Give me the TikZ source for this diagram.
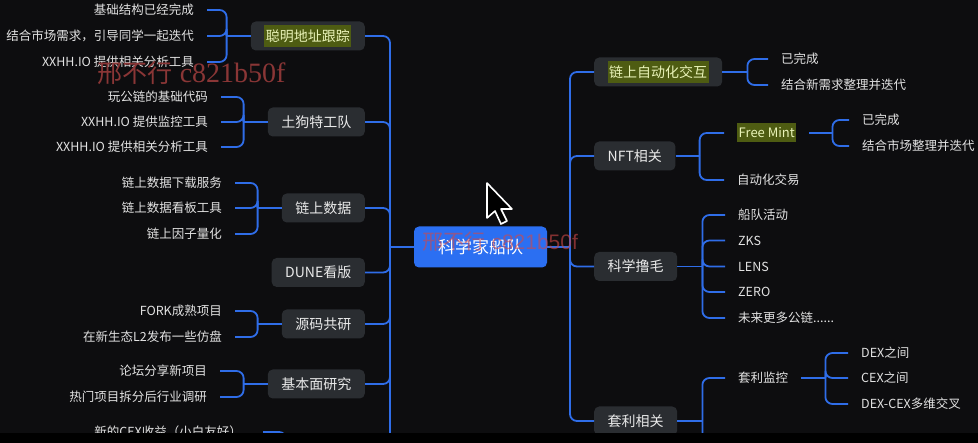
\documentclass[tikz,border=0pt]{standalone}
\usepackage{fontspec}
\newfontfamily\cjk{Noto Sans CJK SC}
\newfontfamily\wmserif{Liberation Serif}
\newfontfamily\wmsans{Liberation Sans}
\definecolor{bgc}{HTML}{0D0D0F}
\definecolor{nodebg}{HTML}{2A2D31}
\definecolor{nodetext}{HTML}{EAEAEA}
\definecolor{leaftext}{HTML}{E2E2E2}
\definecolor{linec}{HTML}{2F6DE8}
\definecolor{centerc}{HTML}{2B6FF2}
\definecolor{hlbg}{HTML}{4E5C12}
\definecolor{hltext}{HTML}{E9F3B8}
\definecolor{wmred}{HTML}{8A3636}
\definecolor{wmred2}{HTML}{D04848}
\newcommand\hlbox[1]{{\setlength\fboxsep{0pt}\colorbox{hlbg}{\kern1.5pt\color{hltext}\rule[-5pt]{0pt}{22pt}#1\kern1.5pt}}}
\begin{document}
\begin{tikzpicture}[x=1pt,y=-1pt,
  box/.style={rounded corners=5pt, fill=nodebg, text=nodetext, font=\cjk\fontsize{14}{16}\selectfont, minimum height=29pt, inner xsep=13.5pt, inner ysep=0pt},
  leaf/.style={inner sep=0pt, text=leaftext, font=\cjk\fontsize{12.5}{14}\selectfont},
  link/.style={draw=linec, line width=1.8pt, rounded corners=7pt},
  hlleaf/.style={inner xsep=1.5pt, inner ysep=0pt, fill=hlbg, text=hltext, font=\cjk\fontsize{13}{14}\selectfont, text height=14pt, text depth=5pt}
]
\useasboundingbox (0,0) rectangle (978,443);
\fill[bgc] (0,0) rectangle (978,443);

% ---------- centre ----------
\node[rounded corners=5pt, fill=centerc, text=white, font=\cjk\fontsize{17}{19}\selectfont, minimum width=133pt, minimum height=41pt, inner sep=0pt] (C) at (480.5,247) {科学家船队};
\coordinate (LJ) at (390,247);
\coordinate (RJ) at (570,247);
\coordinate (LB) at (390,460);

% ---------- left branch nodes ----------
\node[box, anchor=east] (L1) at (365,36) {\hlbox{聪明地址跟踪}};
\node[box, anchor=east] (L2) at (365,122) {土狗特工队};
\node[box, anchor=east] (L3) at (365,208) {链上数据};
\node[box, anchor=east] (L4) at (365,272.5) {DUNE看版};
\node[box, anchor=east] (L5) at (365,324) {源码共研};
\node[box, anchor=east] (L6) at (365,384) {基本面研究};

\foreach \n in {L1,L2,L3,L4,L5,L6} \draw[link] (\n.east) -| (LJ);
\draw[link] (C.west) -- (LJ);
\draw[link] (LJ) -- (LB);

% ---------- left leaves ----------
\node[leaf, anchor=east] (l1a) at (194,10) {基础结构已经完成};
\node[leaf, anchor=east] (l1b) at (194,36) {结合市场需求，引导同学一起迭代};
\node[leaf, anchor=east] (l1c) at (194,62) {XXHH.IO 提供相关分析工具};
\node[leaf, anchor=east] (l2a) at (208,97) {玩公链的基础代码};
\node[leaf, anchor=east] (l2b) at (208,122) {XXHH.IO 提供监控工具};
\node[leaf, anchor=east] (l2c) at (208,147) {XXHH.IO 提供相关分析工具};
\node[leaf, anchor=east] (l3a) at (222,183) {链上数据下载服务};
\node[leaf, anchor=east] (l3b) at (222,208) {链上数据看板工具};
\node[leaf, anchor=east] (l3c) at (222,234) {链上因子量化};
\node[leaf, anchor=east] (l5a) at (222,311) {FORK成熟项目};
\node[leaf, anchor=east] (l5b) at (222,337) {在新生态L2发布一些仿盘};
\node[leaf, anchor=east] (l6a) at (207,371) {论坛分享新项目};
\node[leaf, anchor=east] (l6b) at (207,397) {热门项目拆分后行业调研};
\node[leaf, anchor=east] (l7a) at (242,432) {新的CEX收益（小白友好）};

\foreach \p/\b in {L1/bL1,L2/bL2,L3/bL3,L5/bL5,L6/bL6} {
  \coordinate (\b) at ([xshift=-24pt]\p.west);
  \draw[link] (\p.west) -- (\b);
}
\foreach \b/\c in {bL1/l1a,bL1/l1b,bL1/l1c,bL2/l2a,bL2/l2b,bL2/l2c,bL3/l3a,bL3/l3b,bL3/l3c,bL5/l5a,bL5/l5b,bL6/l6a,bL6/l6b}
  \draw[link] (\b) |- ([xshift=13pt]\c.east);
\coordinate (bL7) at (286,470);
\draw[link] ([xshift=21pt]l7a.east) -| (bL7);

% ---------- right branch nodes ----------
\node[box, anchor=west] (R1) at (594,72) {\hlbox{链上自动化交互}};
\node[box, anchor=west] (R2) at (594,156) {NFT相关};
\node[box, anchor=west] (R3) at (594,266.5) {科学撸毛};
\node[box, anchor=west] (R4) at (594,421) {套利相关};
\draw[link] (C.east) -- (RJ);
\foreach \n in {R1,R2,R3,R4} \draw[link] (RJ) |- (\n.west);

% ---------- right leaves ----------
\node[leaf, anchor=west] (r1a) at (781,59) {已完成};
\node[leaf, anchor=west] (r1b) at (781,85) {结合新需求整理并迭代};
\node[hlleaf, anchor=west] (r2a) at (737,133) {Free Mint};
\node[leaf, anchor=west] (r2b) at (737,180) {自动化交易};
\node[leaf, anchor=west] (fma) at (862,120) {已完成};
\node[leaf, anchor=west] (fmb) at (862,146) {结合市场整理并迭代};
\node[leaf, anchor=west] (r3a) at (738,215) {船队活动};
\node[leaf, anchor=west] (r3b) at (738,240.5) {ZKS};
\node[leaf, anchor=west] (r3c) at (738,266.5) {LENS};
\node[leaf, anchor=west] (r3d) at (738,292) {ZERO};
\node[leaf, anchor=west] (r3e) at (738,318) {未来更多公链......};
\node[leaf, anchor=west] (r4a) at (738,378) {套利监控};
\node[leaf, anchor=west] (tla) at (861,353) {DEX之间};
\node[leaf, anchor=west] (tlb) at (861,378) {CEX之间};
\node[leaf, anchor=west] (tlc) at (861,404) {DEX-CEX多维交叉};

\coordinate (bR1) at ([xshift=25pt]R1.east);
\coordinate (bR2) at ([xshift=24pt]R2.east);
\coordinate (bR3) at ([xshift=25pt]R3.east);
\coordinate (bR4) at ([xshift=25pt]R4.east);
\coordinate (bFM) at ([xshift=36pt]r2a.east);
\coordinate (bTL) at ([xshift=37pt]r4a.east);
\coordinate (bR4end) at (703,470);
\draw[link] (R1.east) -- (bR1);
\draw[link] (R2.east) -- (bR2);
\draw[link] (R3.east) -- (bR3);
\draw[link] (R4.east) -- (bR4);
\draw[link] ([xshift=13pt]r2a.east) -- (bFM);
\draw[link] ([xshift=13pt]r4a.east) -- (bTL);
\foreach \b/\c in {bR1/r1a,bR1/r1b,bR2/r2a,bR2/r2b,bFM/fma,bFM/fmb,bR3/r3a,bR3/r3b,bR3/r3c,bR3/r3d,bR3/r3e,bR4/r4a,bTL/tla,bTL/tlb,bTL/tlc}
  \draw[link] (\b) |- ([xshift=-13pt]\c.west);
\draw[link] (bR4) -- (bR4end);

% ---------- overlays ----------
\node[anchor=west, inner sep=0pt, text=wmred, font=\fontsize{25}{27}\selectfont] (wm1) at (97,73) {{\cjk 邢不行} {\wmserif\fontsize{28}{30}\selectfont c821b50f}};
\node[anchor=west, inner sep=0pt, text=wmred2, opacity=0.6, font=\fontsize{21}{23}\selectfont] (wm2) at (422,242) {{\cjk 邢不行} \wmsans c821b50f};
\fill[black, draw=white, line width=1.6pt, line join=round, shift={(487,183)}]
  (0,0) -- (0,35) -- (8,28) -- (14,41) -- (20,38) -- (14,26) -- (25,26) -- cycle;

\fill[black] (0,433) rectangle (978,443);
\end{tikzpicture}
\end{document}
